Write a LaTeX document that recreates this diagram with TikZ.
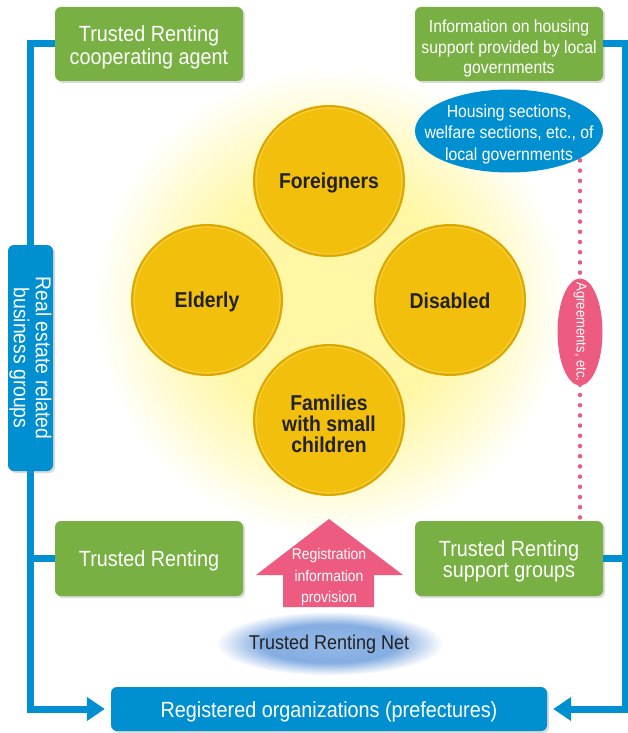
\documentclass[tikz,border=0pt]{standalone}
\usepackage{fontspec}
\setmainfont[FakeStretch=0.9]{Liberation Sans}
\usetikzlibrary{shapes.geometric,arrows.meta,shadows}
\definecolor{grn}{HTML}{78B043}
\definecolor{blu}{HTML}{0090D2}
\definecolor{pnk}{HTML}{EE5B80}
\definecolor{gold}{HTML}{F1BF0C}
\definecolor{golddk}{HTML}{DDA800}
\definecolor{goldlt}{HTML}{F6CF3C}
\definecolor{glowc}{HTML}{FFF7A6}
\definecolor{netc}{HTML}{94B9E8}
\definecolor{netr}{HTML}{84ADE2}
\definecolor{ink}{HTML}{222222}
\pgfdeclareradialshading{glowsh}{\pgfpoint{0bp}{0bp}}{color(0bp)=(glowc); color(13bp)=(glowc); color(19bp)=(glowc!55!white); color(25bp)=(white); color(50bp)=(white)}
\pgfdeclareradialshading{netsh}{\pgfpoint{0bp}{0bp}}{color(0bp)=(netc); color(15bp)=(netr); color(25bp)=(white); color(50bp)=(white)}
\tikzset{
  gbox/.style={fill=grn, rounded corners=6pt, minimum width=188pt, minimum height=74pt, inner sep=0pt,
    drop shadow={shadow xshift=2pt, shadow yshift=-2pt, opacity=0.3}},
  bbox/.style={fill=blu, rounded corners=6pt, text=white, align=center, inner sep=0pt,
    drop shadow={shadow xshift=2pt, shadow yshift=-2pt, opacity=0.3}},
  wtxt/.style={text=white, align=center, inner sep=0pt},
  bline/.style={draw=blu, line width=7pt},
  goldout/.style={circle, fill=golddk, minimum size=152pt, inner sep=0pt},
  goldin/.style={circle, fill=gold, draw=goldlt, line width=1.2pt, minimum size=146pt, inner sep=0pt},
  ctxt/.style={text=ink, align=center, inner sep=0pt, font=\fontsize{21.5}{21}\selectfont\bfseries},
  bigarrow/.style={-{Triangle[length=18pt,width=23pt]}, shorten >=6pt}
}
\begin{document}
\begin{tikzpicture}[x=1pt,y=-1pt]
\useasboundingbox (0,0) rectangle (628,733);
% glow
\shade[shading=glowsh] (330,302) circle (235);
% coordinates
\coordinate (lt) at (30,44);
\coordinate (lm) at (30,558.5);
\coordinate (lb) at (30,709);
\coordinate (rt) at (625,44);
\coordinate (rm) at (625,558.5);
\coordinate (rb) at (625,709);
\coordinate (dtop) at (580,140);
\coordinate (dbot) at (580,522);
% boxes
\node[gbox] (ga) at (149,44) {};
\node[wtxt, font=\fontsize{22}{23}\selectfont] (ga-t) at (149,47.5) {Trusted Renting\\cooperating agent};
\node[gbox] (gb) at (509,44) {};
\node[wtxt, font=\fontsize{17.5}{20.5}\selectfont] (gb-t) at (509,48.5) {Information on housing\\support provided by local\\governments};
\node[gbox, minimum height=75pt] (gc) at (149,558.5) {};
\node[wtxt, font=\fontsize{22}{21}\selectfont] (gc-t) at (149,561) {Trusted Renting};
\node[gbox, minimum height=75pt] (gd) at (509,558.5) {};
\node[wtxt, font=\fontsize{22}{21}\selectfont] (gd-t) at (509,561) {Trusted Renting\\support groups};
\node[bbox, minimum width=436pt, minimum height=44pt] (reg) at (329,709) {};
\node[wtxt, font=\fontsize{22}{22}\selectfont] (reg-t) at (329,711.5) {Registered organizations (prefectures)};
% pink dotted
\draw[pnk, line width=4.5pt, line cap=round, dash pattern=on 0pt off 10.2pt] (dtop) -- (dbot);
% blue lines
\draw[bline, bigarrow] (ga.west) -- (lt) -- (lb) -- (reg.west);
\draw[bline] (gc.west) -- (lm);
\draw[bline, bigarrow] (gb.east) -- (rt) -- (rb) -- (reg.east);
\draw[bline] (gd.east) -- (rm);
% left vertical box
\node[bbox, rotate=-90, minimum width=226pt, minimum height=45pt, font=\fontsize{21.5}{22}\selectfont] (reb) at (30.5,358) {Real estate related\\business groups};
% ellipses
\node[ellipse, fill=blu, minimum width=188pt, minimum height=83pt, inner sep=0pt] (hs) at (509,131) {};
\node[wtxt, font=\fontsize{17.5}{21.5}\selectfont] (hs-t) at (509,134) {Housing sections,\\welfare sections, etc., of\\local governments};
\node[ellipse, fill=pnk, text=white, rotate=-90, minimum width=107pt, minimum height=45pt, inner xsep=-18pt, inner ysep=0pt,
  font=\fontsize{14.5}{15}\selectfont] (agr) at (580,332) {Agreements, etc.};
% circles
\node[goldout] (fo-o) at (329,181) {};
\node[goldin] (fo) at (329,181) {};
\node[ctxt] (fo-t) at (329,182.5) {Foreigners};
\node[goldout] (el-o) at (207,300) {};
\node[goldin] (el) at (207,300) {};
\node[ctxt] (el-t) at (207,301.5) {Elderly};
\node[goldout] (di-o) at (450,300) {};
\node[goldin] (di) at (450,300) {};
\node[ctxt] (di-t) at (450,301) {Disabled};
\node[goldout] (fa-o) at (329,420) {};
\node[goldin] (fa) at (329,420) {};
\node[ctxt] (fa-t) at (329,424) {Families\\with small\\children};
% pink arrow
\fill[pnk] (256,575) -- (329,519) -- (403,575) -- (374,575) -- (374,607) -- (283,607) -- (283,575) -- cycle;
\node[wtxt, font=\fontsize{15.5}{21.5}\selectfont] (rip) at (329,577) {Registration\\information\\provision};
% net ellipse
\shade[shading=netsh] (329.5,643.5) ellipse (114 and 32);
\node[text=ink, font=\fontsize{20}{22}\selectfont, inner sep=0pt] (net) at (329,644.5) {Trusted Renting Net};
\end{tikzpicture}
\end{document}
